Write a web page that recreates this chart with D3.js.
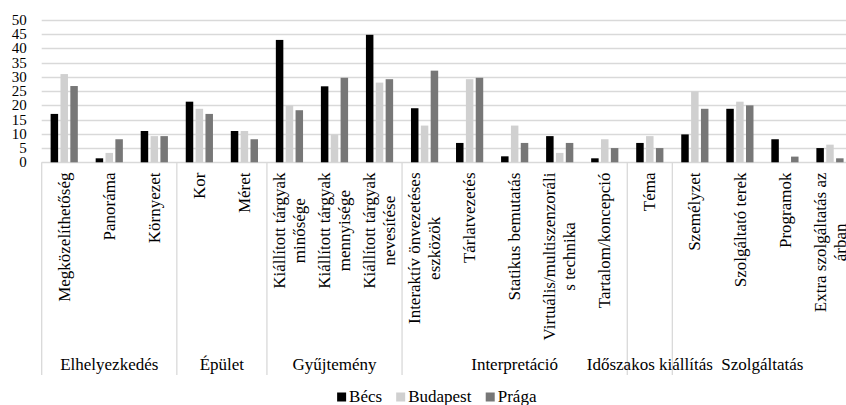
<!DOCTYPE html>
<html>
<head>
<meta charset="utf-8">
<script src="https://cdn.jsdelivr.net/npm/d3@7"></script>
<style>
  html, body { margin: 0; padding: 0; background: #fff; }
</style>
</head>
<body>
<svg id="chart" width="846" height="405"></svg>
<script>
// Categories (each entry may hold several lines) and their parent groups
const categories = [
  ["Megközelíthetőség"], ["Panoráma"], ["Környezet"],
  ["Kor"], ["Méret"],
  ["Kiállított tárgyak", "minősége"], ["Kiállított tárgyak", "mennyisége"], ["Kiállított tárgyak", "nevesítése"],
  ["Interaktív önvezetéses", "eszközök"], ["Tárlatvezetés"], ["Statikus bemutatás"],
  ["Virtuális/multiszenzoráli", "s technika"], ["Tartalom/koncepció"],
  ["Téma"],
  ["Személyzet"], ["Szolgáltató terek"], ["Programok"], ["Extra szolgáltatás az", "árban"]
];
const groupNames = ["Elhelyezkedés", "Épület", "Gyűjtemény", "Interpretáció", "Időszakos kiállítás", "Szolgáltatás"];
const groupSizes = [3, 2, 3, 5, 1, 4];

const seriesNames = ["Bécs", "Budapest", "Prága"];
const becs     = [17.0, 1.4, 11.0, 21.3, 11.0, 43.0, 26.7, 44.8, 19.0, 6.8, 2.1, 9.2, 1.4, 6.8, 9.8, 18.8, 8.1, 5.0];
const budapest = [31.0, 3.3, 9.2, 18.8, 11.0, 20.0, 9.8, 28.0, 12.9, 29.2, 12.9, 3.3, 8.1, 9.2, 24.9, 21.3, 0.0, 6.2];
const praga    = [26.8, 8.1, 9.2, 17.0, 8.1, 18.3, 29.7, 29.2, 32.2, 29.7, 6.8, 6.8, 5.0, 5.0, 18.8, 20.0, 2.0, 1.4];
const yTicks = [0, 5, 10, 15, 20, 25, 30, 35, 40, 45, 50];

const colors = ["#000000", "#d0d0d0", "#777777"];
const seriesValues = [becs, budapest, praga];

const FONT = '"Liberation Serif"';
const svg = d3.select("#chart");
const plotLeft = 41.7, plotRight = 852.5, plotTop = 20, plotBottom = 162.3;
const groupBottom = 375;
const fontSize = 17;

// Applies the serif face to a text selection
function serif(sel, size) {
  return sel.style("font-family", FONT).style("font-size", size + "px").attr("fill", "#000");
}

const idx = categories.map((_, i) => i);
const x = d3.scaleBand().domain(idx).range([plotLeft, plotRight]).padding(0);
const xs = d3.scaleBand().domain(d3.range(seriesNames.length)).range([-13.6, 13.6]).paddingInner(0.24);
const y = d3.scaleLinear().domain([0, 50]).range([plotBottom, plotTop]);

// Horizontal gridlines
svg.append("g").selectAll("line").data(yTicks).join("line")
  .attr("x1", plotLeft).attr("x2", plotRight)
  .attr("y1", d => Math.round(y(d)) + 0.5).attr("y2", d => Math.round(y(d)) + 0.5)
  .attr("stroke", "#d9d9d9").attr("stroke-width", 1.3);

// Value axis labels
const yAxis = d3.axisLeft(y).tickValues(yTicks).tickSize(0).tickPadding(0);
const yg = svg.append("g").attr("transform", `translate(${plotLeft},0)`).call(yAxis);
yg.select(".domain").remove();
serif(yg.selectAll("text"), 15)
  .attr("x", -15)
  .attr("dy", "0.3em");

// Bars
const barG = svg.append("g");
seriesValues.forEach((vals, s) => {
  barG.selectAll(null).data(vals).join("rect")
    .attr("x", (d, i) => x(i) + x.bandwidth() / 2 + xs(s))
    .attr("width", xs.bandwidth())
    .attr("y", d => y(d))
    .attr("height", d => y(0) - y(d))
    .attr("fill", colors[s]);
});

// Group separators along the category axis
let acc = 0;
const bounds = [0];
groupSizes.forEach(n => { acc += n; bounds.push(acc); });
const sepX = bounds.map(b => b < categories.length ? x(b) : plotRight);
svg.append("g").selectAll("line").data(sepX).join("line")
  .attr("x1", d => d).attr("x2", d => d)
  .attr("y1", plotBottom).attr("y2", groupBottom)
  .attr("stroke", "#d9d9d9").attr("stroke-width", 1.3);

// Rotated category labels: the longest line ends at the top, others centred on it
const labelTop = 172.5, lineH = 20;
const labG = svg.append("g");
categories.forEach((lines, i) => {
  const cx = x(i) + x.bandwidth() / 2;
  const g = labG.append("g").attr("transform", `translate(${cx},${labelTop}) rotate(-90)`);
  const texts = lines.map((t, k) => serif(g.append("text"), fontSize)
    .attr("y", (k - (lines.length - 1) / 2) * lineH)
    .attr("dy", "0.33em")
    .text(t));
  const L = d3.max(texts, t => t.node().getComputedTextLength());
  texts.forEach(t => t.attr("x", -L / 2).attr("text-anchor", "middle"));
});

// Group labels
serif(svg.append("g").selectAll("text").data(groupNames).join("text"), fontSize)
  .attr("x", (d, j) => (sepX[j] + sepX[j + 1]) / 2)
  .attr("y", 370)
  .attr("text-anchor", "middle")
  .text(d => d);

// Legend
const legend = svg.append("g");
const legendItems = legend.selectAll("g").data(seriesNames).join("g");
legendItems.append("rect").attr("width", 9).attr("height", 9).attr("y", -9.5)
  .attr("fill", (d, i) => colors[i]);
serif(legendItems.append("text"), fontSize).attr("x", 12).attr("y", 0).text(d => d);
let lx = 0;
legendItems.each(function () {
  d3.select(this).attr("transform", `translate(${lx},0)`);
  lx += this.getBBox().width + 14;
});
const totalW = lx - 14;
legend.attr("transform", `translate(${437 - totalW / 2},402)`);
</script>
</body>
</html>
